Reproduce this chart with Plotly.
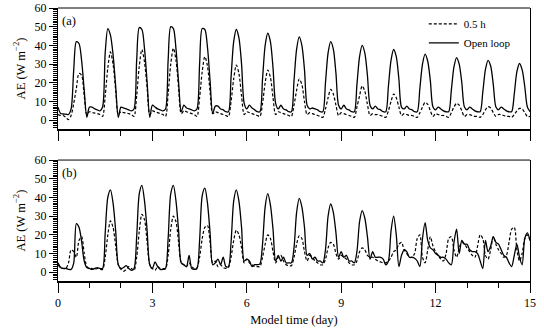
import plotly.graph_objects as go

# sample times: every 2 hours over 15 days
hours = list(range(0, 361, 2))
days = [h / 24 for h in hours]

# Panel (a): AE (W m-2), 12 samples per day (0h,2h,...,22h) + final value
open_loop_a = [
    7, 3.5, 3.3, 3.2, 3, 6, 27, 42, 41, 32, 16, 1.5,
    7, 7, 6, 5.5, 5, 7, 36, 49, 45.5, 35, 18, 1.5,
    7, 6.5, 6, 5.5, 5, 6, 32, 49.5, 48.5, 38, 20, 1.5,
    8, 7, 6, 5.5, 5, 6, 32, 50, 49, 38, 20, 4.5,
    8, 6.5, 6, 5.5, 5, 6, 30, 49, 48.5, 39, 21, 3.5,
    7.5, 7.5, 6, 5.5, 4.5, 4.5, 23, 42, 48.5, 44, 30, 9,
    6, 8, 6.5, 5.5, 4.5, 4.5, 22, 40, 46.5, 42, 28, 9,
    6, 8, 6, 5.5, 4.5, 4.5, 21, 38, 44.5, 40, 27, 8,
    6, 6.5, 6, 5.5, 4.5, 4.5, 20, 36, 42, 38, 25, 8,
    6, 8, 6, 5.5, 4.5, 4.5, 19, 34, 40, 36, 24, 8,
    6, 7.5, 6, 5.5, 4.5, 4.5, 18, 32, 37.8, 34, 22, 7,
    6, 7.5, 6, 5.5, 4.5, 4.5, 17, 30, 35.3, 31.5, 21, 7,
    5.5, 7, 6, 5, 4.5, 4.5, 16, 28.5, 33.5, 30, 20, 7,
    5.5, 7, 6, 5, 4.5, 4.5, 15, 27, 32, 29, 19, 7,
    5.5, 7, 6, 5, 4.5, 4.5, 14, 26, 30.3, 27, 18, 7,
    4.5,
]
half_hour_a = [
    3, 2.5, 2.5, 1.5, 0.3, 2.5, 9, 17, 25, 24, 13, 3,
    4.5, 4, 3.8, 3.5, 3, 2, 13, 28, 36.5, 30, 16, 3,
    4.5, 4, 3.8, 3.5, 3, 2, 13, 29, 37.8, 31, 17, 3,
    5, 4.5, 4, 3.5, 3, 2, 14, 30, 38.5, 32, 17, 3.5,
    5, 4.5, 4, 3.5, 3, 2, 12, 26, 34, 29, 15, 3.5,
    4.5, 4, 3.5, 3, 2.5, 2, 10, 22, 29.5, 25, 13, 3,
    4.5, 4, 3.5, 3, 2.5, 2, 9, 20, 26.8, 23, 12, 3,
    4.5, 4, 3.5, 3, 2.5, 2, 8, 16, 22, 19, 10, 3,
    4, 3.5, 3, 2.5, 2, 1.5, 6, 12, 16.5, 14, 8, 2.5,
    4, 3.5, 3, 2.5, 2, 1.5, 7, 13, 18.3, 15.5, 8.5, 2.5,
    3.5, 3, 3, 2.5, 2, 1.5, 5, 10, 14, 12, 7, 2.5,
    3.5, 3, 2.5, 2.5, 2, 1.5, 4, 7, 9.5, 8.5, 5, 2,
    3.5, 3, 2.5, 2.5, 2, 1.5, 4, 7, 9, 8, 5, 2,
    3, 3, 2.5, 2, 2, 1.5, 3, 5.5, 7.2, 6.5, 4, 2,
    3, 3, 2.5, 2, 2, 1.5, 3, 5, 6.3, 6, 4, 2,
    2,
]

# Panel (b)
open_loop_b = [
    5, 2.5, 2, 2, 1.5, 1.5, 5, 26, 24, 16.5, 6, 2.5,
    2, 1.5, 2, 2.5, 2, 2, 21, 40, 44, 37, 22, 4,
    2, 2.5, 3.5, 2, 1, 2, 19, 42, 46.5, 38, 22, 4,
    2, 5.5, 3, 1.5, 1.5, 2, 18, 42, 46.5, 38, 22, 5,
    4, 3, 9, 2, 1.5, 2, 17, 41, 45, 37, 21, 4,
    5, 7, 4, 8, 3, 3, 16, 38, 44, 38, 24, 6,
    7, 6, 3, 4, 4, 4.5, 15, 35, 42, 36, 23, 6,
    9, 6, 8, 5, 5, 5, 13, 32, 39.5, 35, 24, 9,
    10, 7, 8, 6, 6, 5, 12, 30, 36.5, 32, 21, 8,
    11, 8, 9, 6, 6, 5, 11, 27, 33, 29, 19, 7,
    11, 8, 8, 8, 7, 4, 6, 22, 30, 20, 3, 9,
    12, 11, 8, 8, 7.5, 6, 3, 18, 26.5, 17, 13, 12,
    10, 9, 8, 8, 7, 5, 4, 16, 23, 10, 17, 15,
    15, 12, 11, 11, 10, 6, 2, 17, 11, 14, 19, 16,
    15, 12, 9, 8, 5, 3, 9, 15, 8, 4, 18, 21,
    17,
]
half_hour_b = [
    4, 2.5, 2, 2, 5, 12, 11, 8, 17, 19, 10, 3,
    2, 2, 1.5, 2, 1.5, 1.5, 8, 20, 27.5, 24, 14, 4,
    1.5, 0.5, 1.5, 3, 2, 1, 8, 22, 31, 28, 16, 4,
    2, 1, 3, 2, 2, 2, 9, 23, 30, 27, 16, 5,
    4, 3, 5, 3, 2, 2.5, 8, 18, 24, 25, 16, 5,
    6, 3, 4, 2.5, 2, 2.5, 8, 17, 22.5, 20, 13, 5,
    7, 5, 4, 3, 3, 3, 8, 15, 20, 18, 11, 5,
    8, 9, 6, 4, 3.5, 3.5, 8, 15, 19.5, 18, 11, 6,
    9, 8, 6, 5, 4, 4, 7, 13, 16, 15, 10, 7,
    9, 8, 7, 5, 4, 4, 6, 11, 13, 12, 9, 8,
    8, 7, 6, 5.5, 5, 5, 6, 8, 11, 12, 15, 16,
    12, 10, 8, 8, 10, 18, 20, 8, 5, 12, 19, 14,
    11, 9, 7, 6, 10, 18, 19, 12, 8, 13, 16, 15,
    13, 11, 9, 8, 14, 20, 18, 9, 7, 12, 19, 15,
    12, 10, 8, 9, 16, 23, 24, 12, 6, 10, 18, 20,
    17,
]

x_ticks = [0, 3, 6, 9, 12, 15]
y_ticks = [0, 10, 20, 30, 40, 50, 60]
series_names = ["0.5 h", "Open loop"]
panel_labels = ["(a)", "(b)"]

FONT = "Liberation Serif"
DASH = "3px,2px"

fig = go.Figure()
fig.add_trace(go.Scatter(x=days, y=half_hour_a, name=series_names[0], mode="lines",
                         line=dict(color="black", width=1.2, dash=DASH, shape="spline", smoothing=0.8),
                         xaxis="x", yaxis="y"))
fig.add_trace(go.Scatter(x=days, y=open_loop_a, name=series_names[1], mode="lines",
                         line=dict(color="black", width=1.3, shape="spline", smoothing=0.8),
                         xaxis="x", yaxis="y"))
fig.add_trace(go.Scatter(x=days, y=half_hour_b, name=series_names[0], mode="lines", showlegend=False,
                         line=dict(color="black", width=1.2, dash=DASH, shape="spline", smoothing=0.8),
                         xaxis="x2", yaxis="y2"))
fig.add_trace(go.Scatter(x=days, y=open_loop_b, name=series_names[1], mode="lines", showlegend=False,
                         line=dict(color="black", width=1.3, shape="spline", smoothing=0.8),
                         xaxis="x2", yaxis="y2"))

xcommon = dict(range=[0, 15], tickmode="array", tickvals=x_ticks, ticks="outside", ticklen=10,
               tickwidth=1, tickcolor="black", showline=True, linewidth=2, linecolor="black",
               showgrid=False, zeroline=False, automargin=False,
               minor=dict(dtick=1, ticks="outside", ticklen=5, tickcolor="black", tickwidth=1, showgrid=False),
               tickfont=dict(family=FONT, size=12, color="black"))
ycommon = dict(range=[-4.7, 60], tickmode="array", tickvals=y_ticks, ticks="outside", ticklen=8,
               tickwidth=1, tickcolor="black", showline=True, linewidth=1, linecolor="black", mirror=True,
               showgrid=False, zeroline=False, automargin=False,
               minor=dict(dtick=1, ticks="outside", ticklen=4, tickcolor="black", tickwidth=1, showgrid=False),
               tickfont=dict(family=FONT, size=12, color="black"),
               title=dict(text="AE (W m<sup>−2</sup>)", font=dict(family=FONT, size=12.5, color="black"), standoff=6))

fig.update_layout(
    width=544, height=334,
    margin=dict(l=58, r=14, t=8, b=53, autoexpand=False),
    paper_bgcolor="white", plot_bgcolor="white",
    xaxis=dict(xcommon, anchor="y", showticklabels=False),
    yaxis=dict(ycommon, domain=[0.557, 1], anchor="x"),
    xaxis2=dict(xcommon, anchor="y2",
                title=dict(text="Model time (day)", font=dict(family=FONT, size=12.5, color="black"), standoff=6)),
    yaxis2=dict(ycommon, domain=[0, 0.443], anchor="x2"),
    legend=dict(x=0.775, y=0.995, xanchor="left", yanchor="top", bgcolor="rgba(0,0,0,0)",
                font=dict(family=FONT, size=11, color="black"), tracegroupgap=0),
    showlegend=True,
)

for xr, yr, lab in [("x", "y", panel_labels[0]), ("x2", "y2", panel_labels[1])]:
    fig.add_shape(type="line", xref=f"{xr} domain", yref=f"{yr} domain", x0=0, x1=1, y0=1, y1=1,
                  line=dict(color="black", width=1))
    fig.add_annotation(text=lab, xref=f"{xr} domain", yref=f"{yr} domain", x=0.005, y=0.97,
                       xanchor="left", yanchor="top", showarrow=False,
                       font=dict(family=FONT, size=12.5, color="black"))

fig.write_html("out.html", config={"displayModeBar": False},
               post_script="document.body.style.margin='0';")
